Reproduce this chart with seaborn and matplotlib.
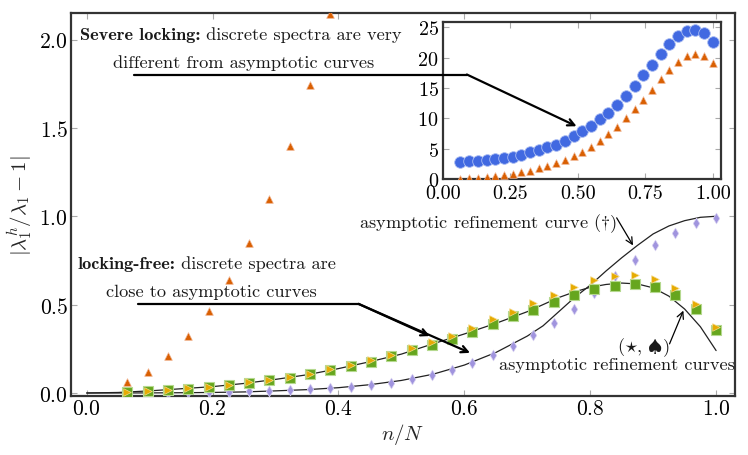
import numpy as np
import pandas as pd
import matplotlib
matplotlib.use("Agg")
import matplotlib.pyplot as plt
import seaborn as sns

# mesh index n for N = 31
n = np.arange(2, 32)
N = 31
x = n / N

# discrete spectra errors
red_tri = [0.062, 0.12, 0.209, 0.322, 0.465, 0.64, 0.851, 1.10, 1.397, 1.744, 2.147,
           2.6, 3.1, 3.75, 4.45, 5.3, 6.3, 7.4, 8.6, 10.0, 11.5, 13.1, 14.75, 16.45,
           18.0, 19.35, 20.35, 20.7, 20.25, 19.1]
blue_circ = [2.86, 2.91, 2.97, 3.08, 3.24, 3.41, 3.68, 4.01, 4.40, 4.78, 5.22, 5.66,
             6.26, 7.09, 7.86, 8.79, 9.84, 10.93, 12.25, 13.74, 15.38, 17.09, 18.85,
             20.55, 22.25, 23.63, 24.45, 24.62, 24.01, 22.53]
purple_dia = [0.0, 0.001, 0.002, 0.003, 0.005, 0.007, 0.010, 0.013, 0.016, 0.021,
              0.027, 0.035, 0.046, 0.059, 0.078, 0.102, 0.132, 0.170, 0.215, 0.268,
              0.329, 0.397, 0.476, 0.567, 0.660, 0.750, 0.835, 0.907, 0.962, 0.992]
green_sq = [0.006, 0.011, 0.017, 0.024, 0.033, 0.044, 0.057, 0.071, 0.087, 0.106,
            0.128, 0.152, 0.178, 0.207, 0.242, 0.274, 0.306, 0.344, 0.388, 0.435,
            0.471, 0.512, 0.552, 0.588, 0.607, 0.618, 0.599, 0.552, 0.473, 0.359]
orange_tri = [0.008, 0.013, 0.019, 0.027, 0.036, 0.047, 0.060, 0.075, 0.091, 0.110,
              0.133, 0.158, 0.185, 0.215, 0.255, 0.287, 0.325, 0.367, 0.416, 0.461,
              0.509, 0.552, 0.597, 0.637, 0.660, 0.667, 0.646, 0.594, 0.503, 0.372]

# asymptotic refinement curves
dag_x = [0, 0.05, 0.1, 0.15, 0.2, 0.25, 0.3, 0.35, 0.4, 0.45, 0.5, 0.55, 0.6, 0.65,
         0.7, 0.725, 0.75, 0.775, 0.8, 0.825, 0.85, 0.875, 0.9, 0.925, 0.95, 0.975, 1.0]
dag_y = [0, 0.0, 0.0005, 0.0015, 0.003, 0.006, 0.012, 0.019, 0.03, 0.047, 0.071, 0.106,
         0.158, 0.229, 0.322, 0.38, 0.46, 0.54, 0.61, 0.69, 0.765, 0.835, 0.9, 0.945,
         0.975, 0.994, 1.0]
star_x = [0, 0.05, 0.1, 0.15, 0.2, 0.25, 0.3, 0.35, 0.4, 0.45, 0.5, 0.55, 0.6, 0.65,
          0.7, 0.75, 0.775, 0.8, 0.825, 0.85, 0.875, 0.9, 0.925, 0.95, 0.975, 1.0]
star_y = [0, 0.003, 0.012, 0.024, 0.036, 0.054, 0.077, 0.103, 0.138, 0.177, 0.22, 0.278,
          0.334, 0.394, 0.46, 0.54, 0.572, 0.598, 0.614, 0.622, 0.617, 0.595, 0.548,
          0.475, 0.375, 0.24]

sns.set_theme(style="ticks")
plt.rcParams['font.family'] = ['cmr10', 'DejaVu Serif']
plt.rcParams['mathtext.fontset'] = 'cm'
plt.rcParams['axes.formatter.use_mathtext'] = True
plt.rcParams['axes.unicode_minus'] = False

fig = plt.figure(figsize=(7.48, 4.56), dpi=100)
ax = fig.add_axes([0.0949, 0.1294, 0.8877, 0.8399])
ax_in = fig.add_axes([0.5922, 0.6053, 0.3717, 0.3443])

C_RED = '#d95f02'
C_ORANGE = '#e6ab02'
C_GREEN = '#66a61e'
C_PURPLE = '#a094de'
C_BLUE = '#4169e1'
TXT = '#1a1a1a'
FS = 13.2

# main panel
sns.lineplot(x=dag_x, y=dag_y, ax=ax, color='#222222', lw=0.9, zorder=2)
sns.lineplot(x=star_x, y=star_y, ax=ax, color='#222222', lw=0.9, zorder=2)
sns.scatterplot(x=x, y=purple_dia, ax=ax, marker='d', s=30, color=C_PURPLE,
                edgecolor='#d8d2f2', linewidth=0.5, zorder=3)
sns.scatterplot(x=x, y=green_sq, ax=ax, marker='s', s=42, color=C_GREEN,
                edgecolor='#b5d98f', linewidth=0.8, zorder=3)
sns.scatterplot(x=x, y=orange_tri, ax=ax, marker='>', s=30, color=C_ORANGE,
                edgecolor='#f5d98a', linewidth=0.5, zorder=4)
sns.scatterplot(x=x, y=red_tri, ax=ax, marker='^', s=30, color=C_RED,
                edgecolor='#f0b08a', linewidth=0.5, zorder=4)

ax.set_xlim(-0.025, 1.03)
ax.set_ylim(-0.017, 2.15)
ax.set_xticks([0.0, 0.2, 0.4, 0.6, 0.8, 1.0])
ax.set_yticks([0.0, 0.5, 1.0, 1.5, 2.0])
ax.set_xlabel(r'$n/N$', fontsize=15, labelpad=2)
ax.set_ylabel(r'$|\lambda_1^h/\lambda_1-1|$', fontsize=15, labelpad=3)

# inset
sns.scatterplot(x=x, y=blue_circ, ax=ax_in, marker='o', s=70, color=C_BLUE,
                edgecolor='#a9bcf2', linewidth=0.6, zorder=3)
sns.scatterplot(x=x, y=red_tri, ax=ax_in, marker='^', s=30, color=C_RED,
                edgecolor='#f0b08a', linewidth=0.5, zorder=3)
ax_in.set_xlim(0, 1.03)
ax_in.set_ylim(0, 25.9)
ax_in.set_xticks([0.0, 0.25, 0.5, 0.75, 1.0])
ax_in.set_xticklabels(['0.00', '0.25', '0.50', '0.75', '1.00'])
ax_in.set_yticks([0, 5, 10, 15, 20, 25])

for a in (ax, ax_in):
    a.tick_params(direction='in', top=True, right=True, length=4, width=0.8,
                  color='#aaaaaa', labelsize=15.5, pad=2, labelcolor='black')
    for s in a.spines.values():
        s.set_color('#333333')
        s.set_linewidth(1.6)
    a.set_facecolor('white')
ax_in.tick_params(labelsize=14.5)
ax_in.tick_params(axis='x', pad=4)
ax_in.tick_params(axis='y', pad=3)

# annotations: bold lead-in followed by regular text
b1 = ax.text(-0.011, 2.002, 'Severe locking:', family='cmb10', fontsize=FS,
             ha='left', va='baseline', color=TXT)
ax.annotate(' discrete spectra are very', xy=(1, 0), xycoords=b1,
            ha='left', va='bottom', fontsize=FS, color=TXT)
ax.text(0.250, 1.845, 'different from asymptotic curves', ha='center',
        va='baseline', fontsize=FS, color=TXT)

b2 = ax.text(-0.0143, 0.706, 'locking-free:', family='cmb10', fontsize=FS,
             ha='left', va='baseline', color=TXT)
ax.annotate(' discrete spectra are', xy=(1, 0), xycoords=b2,
            ha='left', va='bottom', fontsize=FS, color=TXT)
ax.text(0.198, 0.548, 'close to asymptotic curves', ha='center',
        va='baseline', fontsize=FS, color=TXT)

ax.text(0.6375, 0.94, r'asymptotic refinement curve ($\dagger$)',
        ha='center', va='baseline', fontsize=FS, color=TXT)
ax.text(0.885, 0.238, r'$(\star,\,\spadesuit)$',
        ha='center', va='baseline', fontsize=FS, color=TXT)
ax.text(0.843, 0.136, 'asymptotic refinement curves',
        ha='center', va='baseline', fontsize=FS, color=TXT)

# underline + arrows, locking-free
ax.plot([0.081, 0.432], [0.504, 0.504], color='black', lw=1.6, zorder=5)
for tip in [(0.545, 0.322), (0.609, 0.227)]:
    ax.annotate('', xy=tip, xytext=(0.432, 0.504),
                arrowprops=dict(arrowstyle='->', color='black', lw=1.6,
                                shrinkA=0, shrinkB=0), zorder=5)

# underline + arrow, severe locking (drawn over the inset)
ax_in.plot([0.075, 0.604], [1.802, 1.802], color='black', lw=1.6,
           transform=ax.transData, clip_on=False, zorder=6)
ax_in.annotate('', xy=(0.495, 8.7), xycoords='data',
               xytext=(0.604, 1.802), textcoords=ax.transData,
               arrowprops=dict(arrowstyle='->', color='black', lw=1.6,
                               shrinkA=0, shrinkB=0), zorder=6, annotation_clip=False)

ax.annotate('', xy=(0.868, 0.835), xytext=(0.842, 0.991),
            arrowprops=dict(arrowstyle='->', color='black', lw=0.9,
                            shrinkA=0, shrinkB=0))
ax.annotate('', xy=(0.948, 0.466), xytext=(0.926, 0.278),
            arrowprops=dict(arrowstyle='->', color='black', lw=0.9,
                            shrinkA=0, shrinkB=0))

fig.savefig('out.png', dpi=100)
